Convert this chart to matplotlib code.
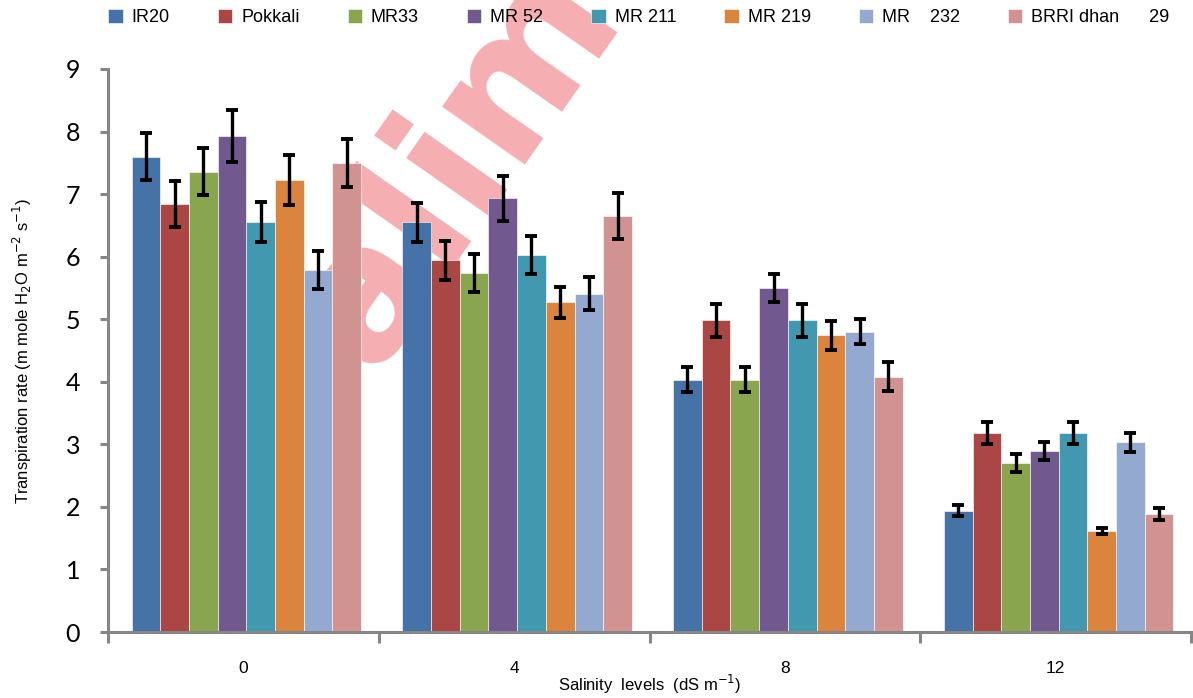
import numpy as np
import matplotlib
matplotlib.use("Agg")
import matplotlib.pyplot as plt
from matplotlib.ticker import FixedLocator, NullFormatter

# Transpiration rate of rice varieties at four salinity levels
salinity_levels = ["0", "4", "8", "12"]
varieties = ["IR20", "Pokkali", "MR33", "MR 52", "MR 211", "MR 219",
             "MR    232", "BRRI dhan      29"]

ir20 = [7.60, 6.55, 4.03, 1.94]
pokkali = [6.84, 5.94, 4.98, 3.18]
mr33 = [7.36, 5.74, 4.03, 2.70]
mr52 = [7.93, 6.93, 5.50, 2.89]
mr211 = [6.55, 6.03, 4.98, 3.18]
mr219 = [7.22, 5.27, 4.74, 1.61]
mr232 = [5.79, 5.41, 4.80, 3.03]
brri29 = [7.50, 6.65, 4.08, 1.89]

ir20_err = [0.37, 0.31, 0.20, 0.09]
pokkali_err = [0.37, 0.31, 0.27, 0.17]
mr33_err = [0.37, 0.31, 0.20, 0.14]
mr52_err = [0.41, 0.36, 0.23, 0.14]
mr211_err = [0.32, 0.30, 0.27, 0.17]
mr219_err = [0.40, 0.25, 0.23, 0.05]
mr232_err = [0.30, 0.27, 0.20, 0.15]
brri29_err = [0.38, 0.36, 0.23, 0.10]

series = [ir20, pokkali, mr33, mr52, mr211, mr219, mr232, brri29]
errors = [ir20_err, pokkali_err, mr33_err, mr52_err, mr211_err, mr219_err,
          mr232_err, brri29_err]
colors = ["#4572A7", "#AA4643", "#89A54E", "#71588F", "#4198AF", "#DB843D",
          "#93A9CF", "#D19392"]

sans = ["Liberation Sans", "DejaVu Sans"]
axis_grey = "#868686"

fig = plt.figure(figsize=(11.93, 6.98), dpi=100)
ax = fig.add_axes([108 / 1193, 66 / 698, 1083 / 1193, 563 / 698])

x = np.arange(len(salinity_levels))
width = 0.106
handles = []
for i, (vals, errs, col) in enumerate(zip(series, errors, colors)):
    pos = x + (i - 3.5) * width + 0.011
    b = ax.bar(pos, vals, width, color=col, edgecolor=(1, 1, 1, 0.6),
               linewidth=0.7, zorder=2, label=varieties[i])
    ax.errorbar(pos, vals, yerr=errs, fmt="none", ecolor="black",
                elinewidth=2.4, capsize=4.5, capthick=2.8, zorder=3)
    handles.append(b)

# pink watermark sitting behind the bars
ax.text(455 / 1193, 1 - 165 / 698, "alim", transform=fig.transFigure,
        rotation=55, fontsize=132, fontweight="heavy", color="#F5AEB1",
        ha="center", va="center", zorder=1, clip_on=False)

ax.set_xlim(-0.5, 3.5)
ax.set_ylim(0, 9)
ax.set_yticks(range(10))
ax.set_yticklabels([str(v) for v in range(10)], fontsize=18, family="Lato")

ax.set_xticks(x)
ax.set_xticklabels(salinity_levels, fontsize=12.5, family=sans)
ax.tick_params(axis="x", which="major", length=0, pad=21)
ax.xaxis.set_minor_locator(FixedLocator([-0.5, 0.5, 1.5, 2.5, 3.5]))
ax.xaxis.set_minor_formatter(NullFormatter())
ax.tick_params(axis="x", which="minor", length=8, width=2.2, color=axis_grey)
ax.tick_params(axis="y", length=6, width=2.2, color=axis_grey, pad=14)

for side in ["top", "right"]:
    ax.spines[side].set_visible(False)
for side in ["left", "bottom"]:
    ax.spines[side].set_color(axis_grey)
    ax.spines[side].set_linewidth(2.2)

ax.set_ylabel(r"Transpiration rate (m mole H$_2$O m$^{-2}$ s$^{-1}$)",
              fontsize=12, family=sans, labelpad=23)
ax.set_xlabel(r"Salinity  levels  (dS m$^{-1}$)", fontsize=12,
              family=sans, labelpad=-2)

fig.legend(handles=handles, labels=varieties, loc="upper left",
           bbox_to_anchor=(92 / 1193, 1.01), ncol=8, frameon=False,
           prop={"family": sans, "size": 13}, handlelength=0.8,
           handleheight=0.8, handletextpad=0.5, columnspacing=2.65)

fig.savefig("out.png", dpi=100)
